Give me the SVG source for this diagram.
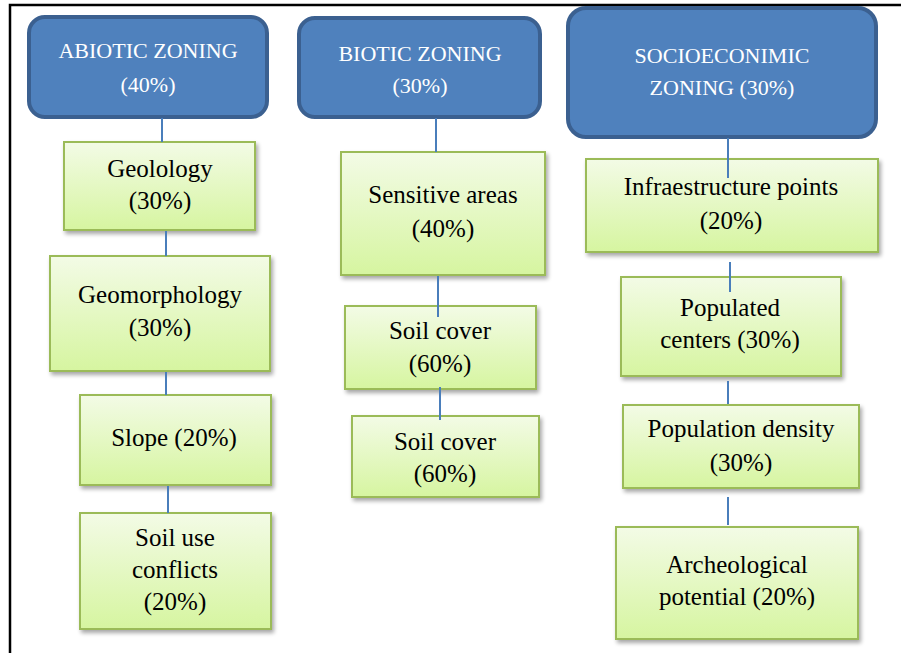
<svg xmlns="http://www.w3.org/2000/svg" width="901" height="653" viewBox="0 0 901 653">
<defs>
  <linearGradient id="gg" x1="0" y1="0" x2="0" y2="1">
    <stop offset="0" stop-color="#f3fbe6"/>
    <stop offset="1" stop-color="#d6f5a0"/>
  </linearGradient>
  <filter id="sh" x="-10%" y="-10%" width="125%" height="130%">
    <feGaussianBlur in="SourceAlpha" stdDeviation="2"/>
    <feOffset dx="2" dy="3" result="b"/>
    <feComponentTransfer><feFuncA type="linear" slope="0.35"/></feComponentTransfer>
    <feMerge><feMergeNode/><feMergeNode in="SourceGraphic"/></feMerge>
  </filter>
</defs>
<style>
  .hdr rect { fill:#4f81bd; stroke:#3b6090; stroke-width:4; }
  .hdr text { fill:#ffffff; font-family:"Liberation Serif", "Times New Roman", serif; font-size:22px; text-anchor:middle; }
  .box rect { fill:url(#gg); stroke:#9bbb59; stroke-width:2; filter:url(#sh); }
  .box text { fill:#000000; font-family:"Liberation Serif", "Times New Roman", serif; font-size:25px; text-anchor:middle; }
  .conn line { stroke:#4a7ebb; stroke-width:2; }
  .frame { stroke:#000; stroke-width:2.5; fill:none; }
</style>
<rect width="901" height="653" fill="#ffffff"/>
<path class="frame" d="M10 653 V5 H901"/>

<g id="abiotic">
  <g class="hdr"><rect x="29" y="17" width="238" height="100" rx="16"/>
  <text x="148" y="58">ABIOTIC ZONING</text><text x="148" y="92">(40%)</text></g>
</g>
<g id="biotic">
  <g class="hdr"><rect x="299" y="18" width="241" height="99" rx="16"/>
  <text x="420" y="61">BIOTIC ZONING</text><text x="420" y="93">(30%)</text></g>
</g>
<g id="socio">
  <g class="hdr"><rect x="568" y="8" width="308" height="129" rx="18"/>
  <text x="722" y="63">SOCIOECONIMIC</text><text x="722" y="95">ZONING (30%)</text></g>
</g>

<g id="geolology" class="box"><rect x="64" y="142" width="191" height="88"/>
  <text x="160" y="177">Geolology</text><text x="160" y="209">(30%)</text></g>
<g id="geomorphology" class="box"><rect x="50" y="256" width="220" height="115"/>
  <text x="160" y="303">Geomorphology</text><text x="160" y="336">(30%)</text></g>
<g id="slope" class="box"><rect x="80" y="395" width="191" height="90"/>
  <text x="174" y="446">Slope (20%)</text></g>
<g id="soiluse" class="box"><rect x="80" y="513" width="191" height="116"/>
  <text x="175" y="546">Soil use</text><text x="175" y="578">conflicts</text><text x="175" y="610">(20%)</text></g>

<g id="sensitive" class="box"><rect x="341" y="152" width="204" height="123"/>
  <text x="443" y="203">Sensitive areas</text><text x="443" y="237">(40%)</text></g>
<g id="soilcover1" class="box"><rect x="345" y="306" width="191" height="83"/>
  <text x="440" y="339">Soil cover</text><text x="440" y="372">(60%)</text></g>
<g id="soilcover2" class="box"><rect x="352" y="416" width="187" height="81"/>
  <text x="445" y="450">Soil cover</text><text x="445" y="482">(60%)</text></g>

<g id="infra" class="box"><rect x="586" y="159" width="292" height="93"/>
  <text x="731" y="195">Infraestructure points</text><text x="731" y="229">(20%)</text></g>
<g id="populated" class="box"><rect x="621" y="277" width="220" height="99"/>
  <text x="730" y="316">Populated</text><text x="730" y="348">centers (30%)</text></g>
<g id="density" class="box"><rect x="623" y="405" width="236" height="83"/>
  <text x="741" y="437">Population density</text><text x="741" y="471">(30%)</text></g>
<g id="archeo" class="box"><rect x="616" y="527" width="242" height="112"/>
  <text x="737" y="573">Archeological</text><text x="737" y="605">potential (20%)</text></g>

<g id="connectors" class="conn">
  <line x1="162" y1="118" x2="162" y2="142"/>
  <line x1="166" y1="231" x2="166" y2="256"/>
  <line x1="166" y1="372" x2="166" y2="395"/>
  <line x1="168" y1="486" x2="168" y2="513"/>
  <line x1="436" y1="118" x2="436" y2="152"/>
  <line x1="438" y1="276" x2="438" y2="317"/>
  <line x1="440" y1="387" x2="440" y2="420"/>
  <line x1="728" y1="138" x2="728" y2="178"/>
  <line x1="730" y1="262" x2="730" y2="292"/>
  <line x1="728" y1="381" x2="728" y2="404"/>
  <line x1="728" y1="497" x2="728" y2="525"/>
</g>
</svg>
